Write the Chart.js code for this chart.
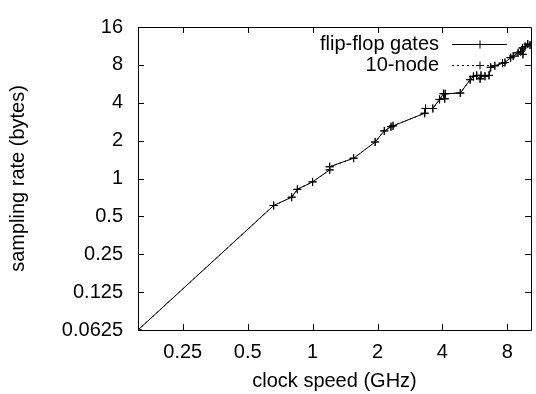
<!DOCTYPE html>
<html>
<head>
<meta charset="utf-8">
<script src="https://cdn.jsdelivr.net/npm/chart.js@4/dist/chart.umd.min.js"></script>
<style>
  html, body { margin: 0; background: #fff; }
  canvas { display: block; }
</style>
</head>
<body>
<canvas id="chart" width="536" height="394"></canvas>
<script>
/* log-log clock speed vs sampling rate, gnuplot look */

const xTicks = [0.25, 0.5, 1, 2, 4, 8];
const yTicks = [0.0625, 0.125, 0.25, 0.5, 1, 2, 4, 8, 16];

const clockGHz = [0.155, 0.66, 0.80, 0.85, 1.0, 1.2, 1.2, 1.55, 1.95, 2.15, 2.31, 2.36,
  3.31, 3.34, 3.61, 3.88, 4.05, 4.1, 4.12, 4.84, 5.38, 5.57, 5.77, 5.98, 6.04, 6.3, 6.58,
  6.7, 7.0, 7.6, 7.8, 8.29, 8.52, 8.97, 9.23, 9.4, 9.45, 9.68, 9.95, 10.2];
const flipFlopBytes = [0.0625, 0.61, 0.71, 0.82, 0.94, 1.17, 1.24, 1.45, 1.95, 2.39, 2.58, 2.62,
  3.30, 3.6, 3.6, 4.25, 4.72, 4.3, 4.72, 4.78, 6.1, 6.48, 6.6, 6.2, 6.6, 6.5, 6.6,
  7.65, 7.87, 8.25, 8.35, 9.12, 9.4, 9.96, 10.2, 10.9, 9.7, 11.2, 11.7, 11.5];
const tenNodeBytes = [0.0625, 0.61, 0.71, 0.82, 0.94, 1.17, 1.24, 1.45, 1.95, 2.39, 2.58, 2.62,
  3.30, 3.6, 3.6, 4.25, 4.72, 4.3, 4.72, 4.78, 6.1, 6.48, 6.6, 6.2, 6.6, 6.5, 6.6,
  7.65, 7.87, 8.25, 8.35, 9.12, 9.4, 9.96, 10.2, 10.9, 9.7, 11.2, 11.7, 11.5];

const FONT = "'Liberation Sans', Arial, Helvetica, sans-serif";

function pts(xs, ys) {
  return xs.map((x, i) => ({ x, y: ys[i] }));
}

function fmtTick(v) {
  return String(v);
}

// gnuplot style box with inward ticks on all four sides
const framePlugin = {
  id: "frame",
  afterDraw(chart) {
    const { ctx, chartArea: a, scales } = chart;
    const len = 6;
    ctx.save();
    ctx.strokeStyle = "#000";
    ctx.lineWidth = 1;
    ctx.beginPath();
    ctx.rect(a.left + 0.5, a.top + 0.5, a.right - a.left, a.bottom - a.top);
    for (const v of xTicks) {
      const px = Math.round(scales.x.getPixelForValue(v)) + 0.5;
      ctx.moveTo(px, a.bottom); ctx.lineTo(px, a.bottom - len);
      ctx.moveTo(px, a.top); ctx.lineTo(px, a.top + len);
    }
    for (const v of yTicks) {
      const py = Math.round(scales.y.getPixelForValue(v)) + 0.5;
      ctx.moveTo(a.left, py); ctx.lineTo(a.left + len, py);
      ctx.moveTo(a.right, py); ctx.lineTo(a.right - len, py);
    }
    ctx.stroke();
    ctx.restore();
  }
};

// key in the top right, text left of the sample like gnuplot
const keyPlugin = {
  id: "key",
  afterDraw(chart) {
    const { ctx, chartArea: a } = chart;
    ctx.save();
    ctx.font = `20px ${FONT}`;
    ctx.textAlign = "right";
    ctx.textBaseline = "middle";
    chart.data.datasets.forEach((ds, i) => {
      const y = Math.round(a.top + 17 + i * 21) + 0.5;
      ctx.fillStyle = "#000";
      ctx.fillText(ds.label, a.right - 92, y);
      ctx.strokeStyle = "#000";
      ctx.lineWidth = 1;
      ctx.setLineDash(ds.borderDash || []);
      ctx.beginPath();
      ctx.moveTo(a.right - 79, y); ctx.lineTo(a.right - 24, y);
      ctx.stroke();
      ctx.setLineDash([]);
      const mx = a.right - 51;
      ctx.beginPath();
      ctx.moveTo(mx - 4, y); ctx.lineTo(mx + 4, y);
      ctx.moveTo(mx, y - 4); ctx.lineTo(mx, y + 4);
      ctx.stroke();
    });
    ctx.restore();
  }
};

new Chart(document.getElementById("chart"), {
  type: "scatter",
  data: {
    datasets: [
      {
        label: "flip-flop gates",
        data: pts(clockGHz, flipFlopBytes),
        showLine: true,
        borderColor: "#000",
        borderWidth: 1,
        pointStyle: "cross",
        pointRadius: 4,
        pointBorderWidth: 1,
        pointBorderColor: "#000",
      },
      {
        label: "10-node",
        data: pts(clockGHz, tenNodeBytes),
        showLine: true,
        borderColor: "#000",
        borderWidth: 1,
        borderDash: [2, 3],
        pointStyle: "cross",
        pointRadius: 4,
        pointBorderWidth: 1,
        pointBorderColor: "#000",
      },
    ],
  },
  options: {
    responsive: false,
    animation: false,
    devicePixelRatio: 1,
    layout: { padding: { top: 15, right: 0, left: 0, bottom: 0 } },
    plugins: { legend: { display: false }, tooltip: { enabled: false } },
    scales: {
      x: {
        type: "logarithmic",
        min: 0.155,
        max: 10.3,
        afterBuildTicks: s => { s.ticks = xTicks.map(v => ({ value: v })); },
        afterFit: s => { s.height = 64; },
        grid: { display: false, drawTicks: false },
        border: { display: false },
        ticks: {
          color: "#000",
          font: { family: FONT, size: 20 },
          padding: 10,
          maxRotation: 0,
          callback: v => fmtTick(v),
        },
        title: {
          display: true,
          text: "clock speed (GHz)",
          color: "#000",
          font: { family: FONT, size: 20 },
          padding: { top: 0, bottom: 1 },
        },
      },
      y: {
        type: "logarithmic",
        min: 0.0625,
        max: 16,
        afterBuildTicks: s => { s.ticks = yTicks.map(v => ({ value: v })); },
        afterFit: s => { s.width = 138; },
        grid: { display: false, drawTicks: false },
        border: { display: false },
        ticks: {
          color: "#000",
          font: { family: FONT, size: 20 },
          padding: 15,
          callback: v => fmtTick(v),
        },
        title: {
          display: true,
          text: "sampling rate (bytes)",
          color: "#000",
          font: { family: FONT, size: 20 },
          padding: { top: 6, bottom: 0 },
        },
      },
    },
  },
  plugins: [framePlugin, keyPlugin],
});
</script>
</body>
</html>
